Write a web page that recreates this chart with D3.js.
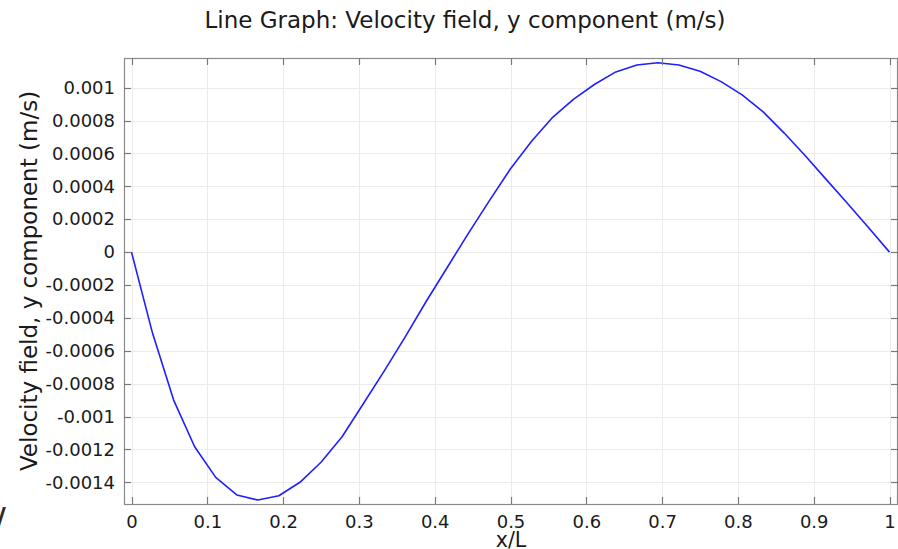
<!DOCTYPE html>
<html>
<head>
<meta charset="utf-8">
<script src="https://cdn.jsdelivr.net/npm/d3@7"></script>
<style>
  html, body { margin: 0; padding: 0; background: #fff; }
  svg { display: block; font-family: "DejaVu Sans", sans-serif; }
</style>
</head>
<body>
<svg id="chart" width="898" height="549"></svg>
<script>
// Sampled positions along the line (x/L)
const xPos = [0, 0.0278, 0.0556, 0.0833, 0.1111, 0.1389, 0.1667, 0.1944, 0.2222,
  0.25, 0.2778, 0.3056, 0.3333, 0.3611, 0.3889, 0.4167, 0.4444, 0.4722, 0.5,
  0.5278, 0.5556, 0.5833, 0.6111, 0.6389, 0.6667, 0.6944, 0.7222, 0.75, 0.7778,
  0.8056, 0.8333, 0.8611, 0.8889, 0.9167, 0.9444, 0.9722, 1];

// Velocity field, y component (m/s)
const velY = [0, -0.000494, -0.000900, -0.001184, -0.001370, -0.001477, -0.001508,
  -0.001482, -0.001400, -0.001278, -0.001123, -0.000924, -0.000724, -0.000516,
  -0.000299, -0.000092, 0.000114, 0.000313, 0.000507, 0.000674, 0.000820,
  0.000931, 0.001021, 0.001096, 0.001138, 0.001152, 0.001138, 0.001100,
  0.001037, 0.000956, 0.000853, 0.000724, 0.000586, 0.000441, 0.000297,
  0.000150, 0];

const xTicks = [0, 0.1, 0.2, 0.3, 0.4, 0.5, 0.6, 0.7, 0.8, 0.9, 1];
const xTickLabels = ["0", "0.1", "0.2", "0.3", "0.4", "0.5", "0.6", "0.7", "0.8", "0.9", "1"];
const yTicks = [0.001, 0.0008, 0.0006, 0.0004, 0.0002, 0, -0.0002, -0.0004,
  -0.0006, -0.0008, -0.001, -0.0012, -0.0014];
const yTickLabels = ["0.001", "0.0008", "0.0006", "0.0004", "0.0002", "0", "-0.0002",
  "-0.0004", "-0.0006", "-0.0008", "-0.001", "-0.0012", "-0.0014"];

const svg = d3.select("#chart");
const plotL = 124, plotR = 898, plotT = 58, plotB = 504;

const x = d3.scaleLinear().domain([-0.0099, 1.0112]).range([plotL, plotR]);
const y = d3.scaleLinear().domain([-0.001532, 0.0011806]).range([plotB, plotT]);

// Grid
const grid = svg.append("g").attr("stroke", "#ebebeb").attr("stroke-width", 1);
grid.selectAll("line.v").data(xTicks).join("line")
  .attr("x1", d => Math.round(x(d)) + 0.5).attr("x2", d => Math.round(x(d)) + 0.5)
  .attr("y1", plotT).attr("y2", plotB);
grid.selectAll("line.h").data(yTicks).join("line")
  .attr("y1", d => Math.round(y(d)) + 0.5).attr("y2", d => Math.round(y(d)) + 0.5)
  .attr("x1", plotL).attr("x2", plotR);

// Data line
const line = d3.line().x((d, i) => x(xPos[i])).y(d => y(d));
svg.append("path").datum(velY)
  .attr("d", line)
  .attr("fill", "none")
  .attr("stroke", "#1f1fff")
  .attr("stroke-width", 1.6)
  .attr("stroke-linejoin", "round");

// Frame
svg.append("rect")
  .attr("x", plotL + 0.5).attr("y", plotT + 0.5)
  .attr("width", plotR - plotL - 1).attr("height", plotB - plotT)
  .attr("fill", "none").attr("stroke", "#8a8a8a").attr("stroke-width", 1.2);

// Inner ticks on all four sides
const tk = svg.append("g").attr("stroke", "#7a7a7a").attr("stroke-width", 1.2);
const tl = 7;
xTicks.forEach(v => {
  const px = Math.round(x(v)) + 0.5;
  tk.append("line").attr("x1", px).attr("x2", px).attr("y1", plotB).attr("y2", plotB - tl);
  tk.append("line").attr("x1", px).attr("x2", px).attr("y1", plotT).attr("y2", plotT + tl);
});
yTicks.forEach(v => {
  const py = Math.round(y(v)) + 0.5;
  tk.append("line").attr("y1", py).attr("y2", py).attr("x1", plotL).attr("x2", plotL + tl);
  tk.append("line").attr("y1", py).attr("y2", py).attr("x1", plotR).attr("x2", plotR - tl);
});

// Axis labels through d3 axes (ticks hidden, labels only)
const xAxis = d3.axisBottom(x).tickValues(xTicks)
  .tickFormat((d, i) => xTickLabels[i]).tickSize(0).tickPadding(11);
const gx = svg.append("g").attr("transform", `translate(0,${plotB})`).call(xAxis);
gx.select(".domain").remove();
gx.selectAll("text").attr("font-size", 18).attr("fill", "#1a1a1a")
  .attr("font-family", "DejaVu Sans, sans-serif");

const yAxis = d3.axisLeft(y).tickValues(yTicks)
  .tickFormat((d, i) => yTickLabels[i]).tickSize(0).tickPadding(9);
const gy = svg.append("g").attr("transform", `translate(${plotL},0)`).call(yAxis);
gy.select(".domain").remove();
gy.selectAll("text").attr("font-size", 18).attr("fill", "#1a1a1a")
  .attr("font-family", "DejaVu Sans, sans-serif");

// Titles
svg.append("text").attr("x", 465).attr("y", 28).attr("text-anchor", "middle")
  .attr("font-size", 23).attr("fill", "#1a1a1a")
  .text("Line Graph: Velocity field, y component (m/s)");

svg.append("text").attr("x", 511).attr("y", 547).attr("text-anchor", "middle")
  .attr("font-size", 20.5).attr("fill", "#1a1a1a").text("x/L");

svg.append("text")
  .attr("transform", "translate(36.5,281) rotate(-90)")
  .attr("text-anchor", "middle").attr("font-size", 23).attr("fill", "#1a1a1a")
  .text("Velocity field, y component (m/s)");

// Stray glyph at the lower-left edge
svg.append("text").attr("x", -4).attr("y", 527)
  .attr("font-size", 27).attr("font-weight", "bold").attr("fill", "#2d2b1e")
  .text("/");
</script>
</body>
</html>
